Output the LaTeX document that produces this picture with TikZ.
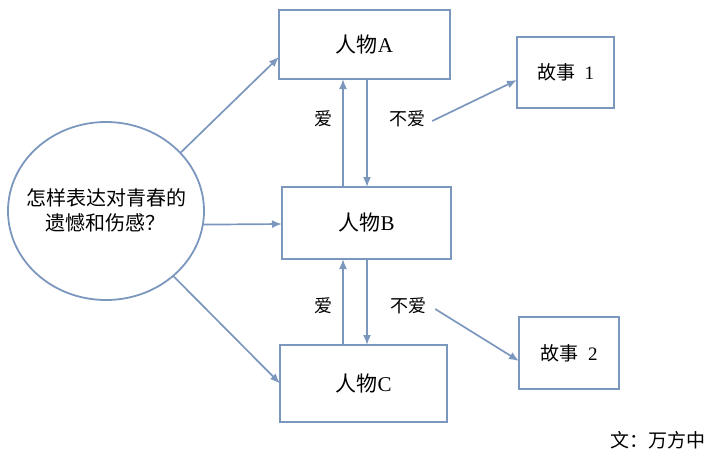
\documentclass[tikz,border=0pt]{standalone}
\usepackage{fontspec}
\setmainfont{Liberation Serif}
\newfontfamily\cjk{Noto Sans CJK SC}
\usetikzlibrary{shapes.geometric,arrows.meta}
\definecolor{edge}{RGB}{124,151,190}
\tikzset{
  box/.style={draw=edge, line width=1.8pt, rectangle, inner sep=0pt, outer sep=0pt},
  arr/.style={draw=edge, line width=1.7pt, -{Latex[length=10pt,width=8pt]}},
  lbl/.style={inner sep=1pt, font=\fontsize{18}{20}\selectfont\cjk},
}
\begin{document}
\begin{tikzpicture}[x=1pt,y=-1pt]
\useasboundingbox (0,0) rectangle (720,461);
\node[draw=edge, line width=1.8pt, ellipse, minimum width=196pt, minimum height=178pt, inner sep=0pt, outer sep=0pt] (Q) at (106,211) {};
\node[align=center, inner sep=0pt, font=\fontsize{20}{25}\selectfont\cjk] (qt) at (106,210) {怎样表达对青春的\\遗憾和伤感？};
\node[box, minimum width=171pt, minimum height=69pt, font=\fontsize{21}{24}\selectfont] (A) at (364.5,44.5) {{\cjk 人物}A};
\node[box, minimum width=169pt, minimum height=72pt, font=\fontsize{21}{24}\selectfont] (B) at (366.5,223) {{\cjk 人物}B};
\node[box, minimum width=167pt, minimum height=77pt, font=\fontsize{21}{24}\selectfont] (C) at (363.5,383.5) {{\cjk 人物}C};
\node[box, minimum width=97pt, minimum height=71pt, font=\fontsize{19}{22}\selectfont] (S1) at (565.5,72.5) {{\cjk 故事}\ \ 1};
\node[box, minimum width=100pt, minimum height=72pt, font=\fontsize{19}{22}\selectfont] (S2) at (569,353) {{\cjk 故事}\ \ 2};
\node[lbl] (l1) at (323,119) {爱};
\node[lbl] (n1) at (407,119) {不爱};
\node[lbl] (l2) at (323,306) {爱};
\node[lbl] (n2) at (408,306) {不爱};
\node[inner sep=0pt, font=\fontsize{19}{22}\selectfont\cjk] (sig) at (658,440) {文：万方中};
\coordinate (upx) at (343,0);
\coordinate (dnx) at (367,0);
% circle to persons
\draw[arr] (Q.38) -- ([yshift=-12.5pt]A.west);
\draw[arr] (Q.-8) -- ([yshift=-1pt]B.west);
\draw[arr] (Q.-44) -- (C.west);
% A <-> B
\draw[arr] (B.north -| upx) -- (A.south -| upx);
\draw[arr] (A.south -| dnx) -- (B.north -| dnx);
% B <-> C
\draw[arr] (C.north -| upx) -- (B.south -| upx);
\draw[arr] (B.south -| dnx) -- (C.north -| dnx);
% not love -> stories
\draw[arr] ([xshift=6pt,yshift=-2pt]n1.east) -- ([yshift=-7.5pt]S1.west);
\draw[arr] ([xshift=8pt,yshift=-3pt]n2.east) -- ([yshift=-8pt]S2.west);
\end{tikzpicture}
\end{document}
